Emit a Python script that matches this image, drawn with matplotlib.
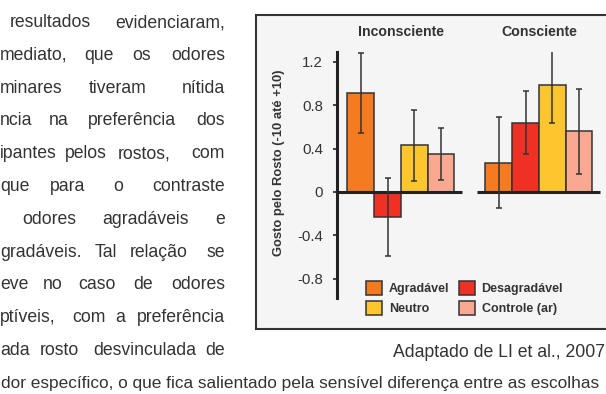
import matplotlib
matplotlib.use("Agg")
import matplotlib.pyplot as plt
from matplotlib.patches import Rectangle, Patch
import numpy as np

# ---------------- data ----------------
groups = ["Inconsciente", "Consciente"]
series = ["Agradável", "Desagradável", "Neutro", "Controle (ar)"]
colors = ["#F47B20", "#EE3124", "#FDC52E", "#F9A891"]
values_incons = [0.91, -0.23, 0.43, 0.35]
errors_incons = [0.37, 0.36, 0.33, 0.24]
values_cons = [0.27, 0.64, 0.99, 0.56]
errors_cons = [0.42, 0.29, 0.35, 0.39]
yticks = [-0.8, -0.4, 0, 0.4, 0.8, 1.2]
ytick_labels = ["-0.8", "-0.4", "0", "0.4", "0.8", "1.2"]
ylabel = "Gosto pelo Rosto (-10 até +10)"
caption = "Adaptado de LI et al., 2007"

# paragraph lines (visible fragments): (word, x_px, anchor)
para_lines = [
    [("resultados", 10, "left"), ("evidenciaram,", 225, "right")],
    [("mediato,", 0, "left"), ("que", 84, "left"), ("os", 132, "left"), ("odores", 225, "right")],
    [("minares", 0, "left"), ("tiveram", 89, "left"), ("nítida", 225, "right")],
    [("ncia", 0, "left"), ("na", 49, "left"), ("preferência", 88, "left"), ("dos", 225, "right")],
    [("ipantes", 0, "left"), ("pelos", 65, "left"), ("rostos,", 118, "left"), ("com", 225, "right")],
    [("que", 0, "left"), ("para", 50, "left"), ("o", 113, "left"), ("contraste", 225, "right")],
    [("odores", 22, "left"), ("agradáveis", 102, "left"), ("e", 225, "right")],
    [("gradáveis.", 0, "left"), ("Tal", 95, "left"), ("relação", 130, "left"), ("se", 225, "right")],
    [("eve", 0, "left"), ("no", 43, "left"), ("caso", 78, "left"), ("de", 133, "left"), ("odores", 225, "right")],
    [("ptíveis,", 0, "left"), ("com", 72, "left"), ("a", 115, "left"), ("preferência", 225, "right")],
    [("ada", 0, "left"), ("rosto", 40, "left"), ("desvinculada", 93, "left"), ("de", 225, "right")],
]
last_line = "dor específico, o que fica salientado pela sensível diferença entre as escolhas"

# ---------------- figure ----------------
W, H = 606, 394
fig = plt.figure(figsize=(W / 100, H / 100), dpi=100)
fig.patch.set_facecolor("white")
FONT = "Liberation Sans"
plt.rcParams["font.family"] = [FONT, "DejaVu Sans"]

def fx(x):
    return x / W

def fy(y):
    return 1 - y / H

txt_color = "#333333"
body_size = 12.7

for i, line in enumerate(para_lines):
    base = 27 + 32.8 * i
    for word, x, ha in line:
        fig.text(fx(x), fy(base), word, ha=ha, va="baseline", fontsize=body_size,
                 color=txt_color, family=FONT)
fig.text(fx(1), fy(27 + 32.8 * 11), last_line, ha="left", va="baseline", fontsize=12.45,
         color=txt_color, family=FONT)

fig.text(fx(605), fy(357), caption, ha="right", va="baseline", fontsize=body_size,
         color=txt_color, family=FONT)

# chart box
box = Rectangle((fx(256), fy(329)), fx(700) - fx(256), fy(15) - fy(329),
                transform=fig.transFigure, facecolor="#F5F5F5", edgecolor="#333333",
                linewidth=1.5, zorder=-5)
fig.add_artist(box)

ax_left, ax_right, ax_top, ax_bot = 337, 606, 51.7, 298.3
ax = fig.add_axes([fx(ax_left), fy(ax_bot), fx(ax_right) - fx(ax_left), fy(ax_top) - fy(ax_bot)])
ax.set_facecolor("none")

bar_px = 26.7
first_center = 360.8
group_offset = 138.0 / bar_px
x0 = (ax_left - first_center) / bar_px
ax.set_xlim(x0, x0 + (ax_right - ax_left) / bar_px)
ax.set_ylim(-0.982, 1.295)

all_vals = [values_incons, values_cons]
all_errs = [errors_incons, errors_cons]
for g in range(2):
    xs = g * group_offset + np.arange(len(series))
    for j in range(len(series)):
        ax.bar(xs[j], all_vals[g][j], width=1.0, color=colors[j], edgecolor="#333333",
               linewidth=1.1, zorder=2)
        ax.errorbar(xs[j], all_vals[g][j], yerr=all_errs[g][j], fmt="none",
                    ecolor="#333333", elinewidth=1.1, capsize=2.3, capthick=1.1, zorder=4)
    start = x0 if g == 0 else xs[0] - 0.5 - 0.33
    end = xs[-1] + 0.5 + 0.3
    ax.hlines(0, start, end, color="#222222", linewidth=2.2, zorder=3)
    ax.text(xs.mean(), (ax_bot - 32) / (ax_bot - ax_top), groups[g],
            transform=ax.get_xaxis_transform(), ha="center", va="center",
            fontsize=10.2, fontweight="bold", color="#333333", family=FONT)

for s in ["top", "right", "bottom"]:
    ax.spines[s].set_visible(False)
ax.spines["left"].set_linewidth(2.2)
ax.spines["left"].set_color("#222222")
ax.set_xticks([])
ax.set_yticks(yticks)
ax.set_yticklabels(ytick_labels)
ax.tick_params(axis="y", direction="out", length=3, width=1.2, color="#222222",
               pad=7, labelsize=10.8, labelcolor="#333333")

fig.text(fx(279), fy(163), ylabel, rotation=90, ha="center", va="center",
         fontsize=9.4, fontweight="bold", color="#333333", family=FONT)

# legend: row-wise order (matplotlib fills columns first)
order = [0, 2, 1, 3]
handles = [Patch(facecolor=colors[k], edgecolor="#333333", linewidth=1.1) for k in order]
labels = [series[k] for k in order]
leg = fig.legend(handles, labels, loc="upper left", bbox_to_anchor=(fx(366), fy(281)),
                 ncol=2, frameon=False, borderpad=0, borderaxespad=0,
                 handlelength=1.28, handleheight=1.3, handletextpad=0.55,
                 columnspacing=0.75, labelspacing=0.5,
                 prop={"family": FONT, "weight": "bold", "size": 9})
for t in leg.get_texts():
    t.set_color("#333333")

fig.savefig("out.png", dpi=100)
